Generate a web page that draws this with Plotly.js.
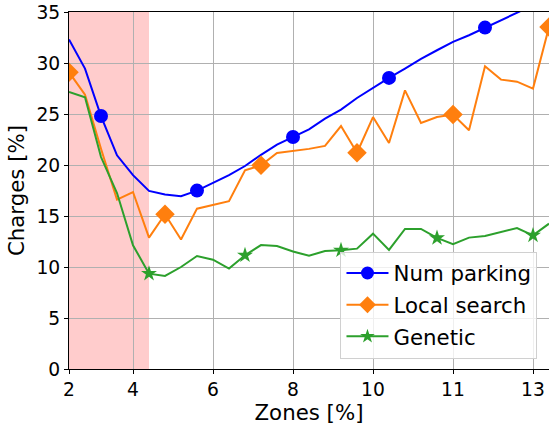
<!DOCTYPE html>
<html>
<head>
<meta charset="utf-8">
<script src="https://cdn.plot.ly/plotly-3.0.1.min.js"></script>
<style>html,body{margin:0;padding:0;background:#fff;}#chart{width:549px;height:428px;}</style>
</head>
<body>
<div id="chart"></div>
<script>
// Tick positions (point index, 1-based) and their labels
const tickPositions = [1, 5, 10, 15, 20, 25, 30];
const tickLabels = ['2', '4', '6', '8', '10', '11', '13'];

// Series values (Charges [%])
const numParking = [32.3, 29.45, 24.8, 20.95, 19.0, 17.46, 17.1, 16.93, 17.49, 18.24, 19.0, 19.9, 21.0, 22.0, 22.75, 23.5, 24.55, 25.43, 26.57, 27.59, 28.54, 29.45, 30.4, 31.25, 32.07, 32.72, 33.47, 34.25, 34.95, 35.7, 36.4];
const localSearch = [29.1, 26.9, 21.6, 16.6, 17.35, 12.88, 15.17, 12.7, 15.72, 16.06, 16.45, 19.48, 19.97, 21.18, 21.37, 21.58, 21.87, 23.82, 21.2, 24.7, 22.16, 27.32, 24.12, 24.7, 24.94, 23.4, 29.68, 28.37, 28.17, 27.49, 33.53];
const genetic = [27.16, 26.64, 20.78, 17.25, 12.13, 9.35, 9.12, 10.0, 11.08, 10.72, 9.84, 11.15, 12.15, 12.06, 11.52, 11.1, 11.57, 11.64, 11.8, 13.27, 11.67, 13.73, 13.73, 12.85, 12.23, 12.88, 13.04, 13.43, 13.82, 13.1, 14.25];

// Shaded zone (point index, 1-based)
const shadeStart = 1;
const shadeEnd = 6;

const xPos = numParking.map((_, i) => i + 1);

function sizes(n, offset, every, size) {
  const s = [];
  for (let i = 0; i < n; i++) s.push(i >= offset && (i - offset) % every === 0 ? size : 0);
  return s;
}

const FONT = 'DejaVu Sans, sans-serif';

const series = [
  {name: 'Num parking', y: numParking, color: '#0000ff', symbol: 'circle', offset: 2, size: 14, legSize: 13, grp: 'a'},
  {name: 'Local search', y: localSearch, color: '#ff7f0e', symbol: 'diamond', offset: 0, size: 15, legSize: 13, grp: 'b'},
  {name: 'Genetic', y: genetic, color: '#2ca02c', symbol: 'star', offset: 5, size: 12, legSize: 11, grp: 'c'}
];

const traces = [];
series.forEach(s => {
  traces.push({
    x: xPos, y: s.y, name: s.name, mode: 'lines+markers', legendgroup: s.grp, showlegend: false,
    line: {color: s.color, width: 2},
    marker: {symbol: s.symbol, color: s.color, opacity: 1, line: {width: 0},
             size: sizes(s.y.length, s.offset, 6, s.size)}
  });
});
series.forEach(s => {
  traces.push({
    x: [null], y: [null], name: s.name, mode: 'lines+markers', legendgroup: s.grp, showlegend: true,
    line: {color: s.color, width: 2},
    marker: {symbol: s.symbol, color: s.color, opacity: 1, size: s.legSize, line: {width: 0}}
  });
});

const layout = {
  width: 549, height: 428,
  margin: {l: 69, r: 0, t: 12, b: 59},
  paper_bgcolor: '#fff', plot_bgcolor: '#fff',
  font: {family: FONT, color: '#000'},
  showlegend: true,
  xaxis: {
    range: [1, 31], tickvals: tickPositions, ticktext: tickLabels,
    showgrid: true, gridcolor: '#b0b0b0', gridwidth: 1,
    zeroline: false, showline: true, linecolor: '#000', linewidth: 1, mirror: true,
    ticks: 'outside', ticklen: 4, tickcolor: '#000',
    tickfont: {size: 18.7, family: FONT},
    title: {text: 'Zones [%]', font: {size: 21.3, family: FONT}, standoff: 4}
  },
  yaxis: {
    range: [0, 35], dtick: 5, tick0: 0,
    showgrid: true, gridcolor: '#b0b0b0', gridwidth: 1,
    zeroline: false, showline: true, linecolor: '#000', linewidth: 1,
    ticks: 'outside', ticklen: 4, tickcolor: '#000',
    tickfont: {size: 18.7, family: FONT},
    title: {text: 'Charges [%]', font: {size: 21.3, family: FONT}, standoff: 6}
  },
  shapes: [{
    type: 'rect', xref: 'x', yref: 'paper', x0: shadeStart, x1: shadeEnd, y0: 0, y1: 1,
    fillcolor: 'rgb(255,204,204)', line: {width: 0}, layer: 'below'
  }],
  legend: {
    x: 0.976, y: 0.029, xanchor: 'right', yanchor: 'bottom',
    bgcolor: 'rgba(255,255,255,0.8)', bordercolor: '#d0d0d0', borderwidth: 1,
    font: {size: 21.3, family: FONT}, tracegroupgap: 1,
    itemwidth: 42
  }
};

Plotly.newPlot('chart', traces, layout, {displayModeBar: false, staticPlot: true});
</script>
</body>
</html>
